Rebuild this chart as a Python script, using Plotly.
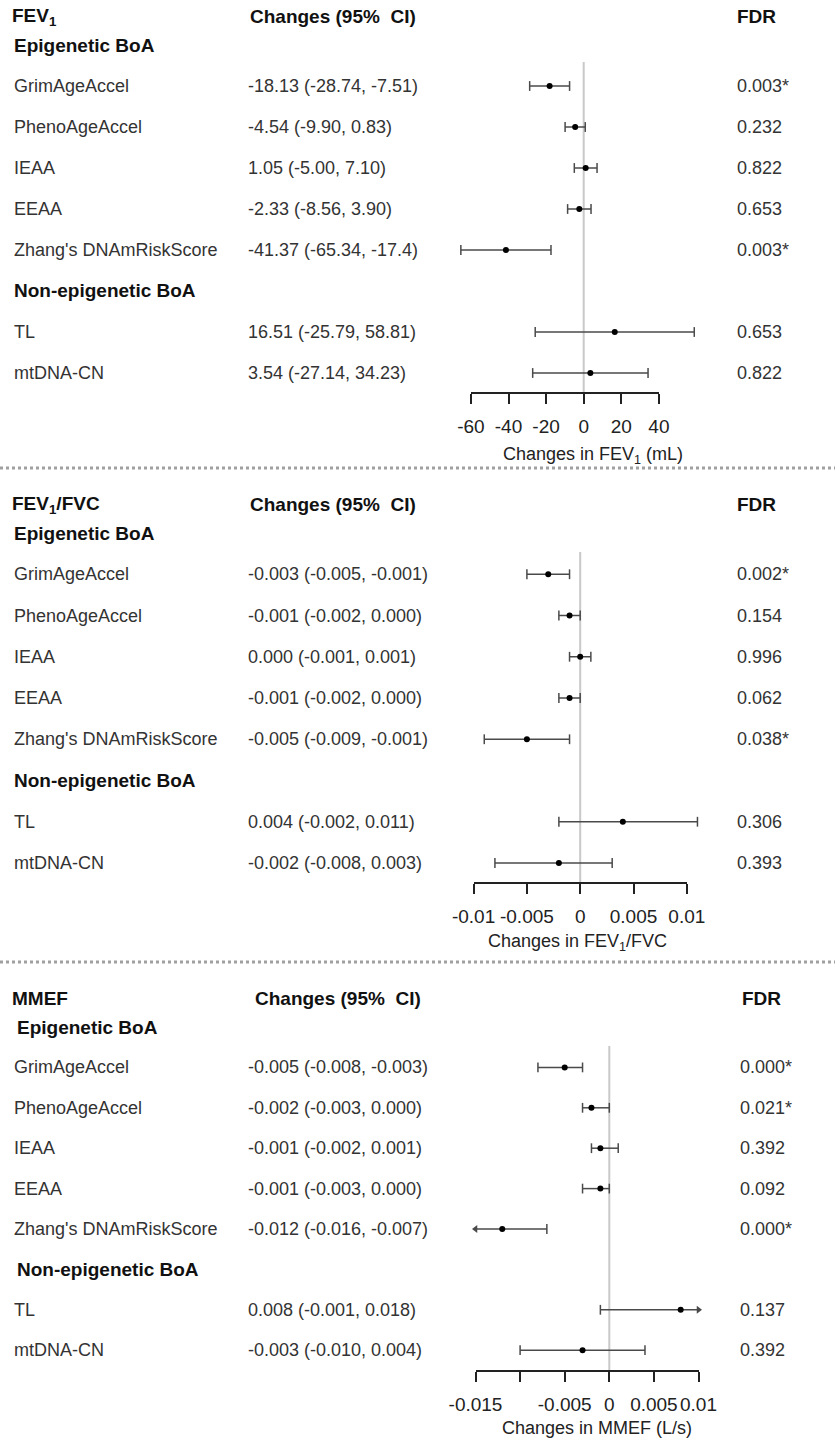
import plotly.graph_objects as go

W, H = 835, 1443

# ---- data -------------------------------------------------------------
row_labels = ["GrimAgeAccel", "PhenoAgeAccel", "IEAA", "EEAA",
              "Zhang's DNAmRiskScore", "TL", "mtDNA-CN"]
row_groups = ["Epigenetic BoA"] * 5 + ["Non-epigenetic BoA"] * 2

fev1_est = ["-18.13", "-4.54", "1.05", "-2.33", "-41.37", "16.51", "3.54"]
fev1_low = ["-28.74", "-9.90", "-5.00", "-8.56", "-65.34", "-25.79", "-27.14"]
fev1_high = ["-7.51", "0.83", "7.10", "3.90", "-17.4", "58.81", "34.23"]
fev1_fdr = ["0.003*", "0.232", "0.822", "0.653", "0.003*", "0.653", "0.822"]
fev1_ticks = [-60, -40, -20, 0, 20, 40]
fev1_ticktext = ["-60", "-40", "-20", "0", "20", "40"]

ratio_est = ["-0.003", "-0.001", "0.000", "-0.001", "-0.005", "0.004", "-0.002"]
ratio_low = ["-0.005", "-0.002", "-0.001", "-0.002", "-0.009", "-0.002", "-0.008"]
ratio_high = ["-0.001", "0.000", "0.001", "0.000", "-0.001", "0.011", "0.003"]
ratio_fdr = ["0.002*", "0.154", "0.996", "0.062", "0.038*", "0.306", "0.393"]
ratio_ticks = [-0.01, -0.005, 0, 0.005, 0.01]
ratio_ticktext = ["-0.01", "-0.005", "0", "0.005", "0.01"]

mmef_est = ["-0.005", "-0.002", "-0.001", "-0.001", "-0.012", "0.008", "-0.003"]
mmef_low = ["-0.008", "-0.003", "-0.002", "-0.003", "-0.016", "-0.001", "-0.010"]
mmef_high = ["-0.003", "0.000", "0.001", "0.000", "-0.007", "0.018", "0.004"]
mmef_fdr = ["0.000*", "0.021*", "0.392", "0.092", "0.000*", "0.137", "0.392"]
mmef_ticks = [-0.015, -0.01, -0.005, 0, 0.005, 0.01]
mmef_ticktext = ["-0.015", "", "-0.005", "0", "0.005", "0.01"]

# ---- panel layout -----------------------------------------------------
panels = [
    dict(name="FEV<sub>1</sub>", xtitle="Changes in FEV<sub>1</sub> (mL)",
         est=fev1_est, low=fev1_low, high=fev1_high, fdr=fev1_fdr,
         ticks=fev1_ticks, ticktext=fev1_ticktext, clip=False,
         head_px=17, row0_px=45, step=41.0, zero_px=583.7, ppu=1.88,
         axis_px=393, title_px=455, title_cx=593, ref_top_px=62,
         ci_head_x=248, fdr_head_x=735, fdr_x=735, group_x=12),
    dict(name="FEV<sub>1</sub>/FVC", xtitle="Changes in FEV<sub>1</sub>/FVC",
         est=ratio_est, low=ratio_low, high=ratio_high, fdr=ratio_fdr,
         ticks=ratio_ticks, ticktext=ratio_ticktext, clip=False,
         head_px=505, row0_px=533, step=41.25, zero_px=580.2, ppu=10660,
         axis_px=883, title_px=942, title_cx=577, ref_top_px=552,
         ci_head_x=248, fdr_head_x=735, fdr_x=735, group_x=12),
    dict(name="MMEF", xtitle="Changes in MMEF (L/s)",
         est=mmef_est, low=mmef_low, high=mmef_high, fdr=mmef_fdr,
         ticks=mmef_ticks, ticktext=mmef_ticktext, clip=True,
         head_px=998, row0_px=1027, step=40.4, zero_px=609.3, ppu=8920,
         axis_px=1371, title_px=1428, title_cx=597, ref_top_px=1046,
         ci_head_x=253, fdr_head_x=740, fdr_x=738, group_x=15),
]

FONT = "Liberation Sans, Arial, sans-serif"
TXT = "#333333"
BAR = "#4a4a4a"
REG, BOLD, TICK = 18, 19, 19


def py(px):
    return 1 - px / H


def px_x(px):
    return px / W


fig = go.Figure()
layout = dict(width=W, height=H, margin=dict(l=0, r=0, t=0, b=0, pad=0, autoexpand=False),
              paper_bgcolor="white", plot_bgcolor="rgba(0,0,0,0)",
              showlegend=False, font=dict(family=FONT, color=TXT))
annotations, shapes = [], []

for k, p in enumerate(panels, start=1):
    xa, ya = f"x{k}" if k > 1 else "x", f"y{k}" if k > 1 else "y"
    xkey, ykey = ("xaxis" + (str(k) if k > 1 else "")), ("yaxis" + (str(k) if k > 1 else ""))
    row_px = lambda r, p=p: p["row0_px"] + r * p["step"]

    # data axes span the whole page; pixel position follows the scale
    layout[xkey] = dict(domain=[0, 1], range=[-p["zero_px"] / p["ppu"], (W - p["zero_px"]) / p["ppu"]],
                        visible=False, anchor=ya, automargin=False)
    layout[ykey] = dict(domain=[0, 1], range=[(H - p["row0_px"]) / p["step"], -p["row0_px"] / p["step"]],
                        visible=False, anchor=xa, automargin=False)

    # row positions: group header rows interleaved with item rows
    rows, group_rows, r, last = [], [], 0, None
    for g in row_groups:
        if g != last:
            group_rows.append((g, r))
            r += 1
            last = g
        rows.append(r)
        r += 1

    est = [float(v) for v in p["est"]]
    low = [float(v) for v in p["low"]]
    high = [float(v) for v in p["high"]]
    tmin, tmax = min(p["ticks"]), max(p["ticks"])

    # whiskers
    lx, ly, capx, capy, al_x, al_y, ar_x, ar_y = [], [], [], [], [], [], [], []
    for lo, hi, yy in zip(low, high, rows):
        a, b = lo, hi
        if p["clip"] and lo < tmin:
            a = tmin
            al_x.append(a); al_y.append(yy)
        else:
            capx.append(a); capy.append(yy)
        if p["clip"] and hi > tmax:
            b = tmax
            ar_x.append(b); ar_y.append(yy)
        else:
            capx.append(b); capy.append(yy)
        lx += [a, b, None]
        ly += [yy, yy, None]

    # reference line at zero
    ref_top = (p["ref_top_px"] - p["row0_px"]) / p["step"]
    ref_bot = (p["axis_px"] - p["row0_px"]) / p["step"]
    fig.add_trace(go.Scatter(x=[0, 0], y=[ref_top, ref_bot], mode="lines",
                             line=dict(color="#c9c9c9", width=2),
                             xaxis=xa, yaxis=ya, hoverinfo="skip"))
    fig.add_trace(go.Scatter(x=lx, y=ly, mode="lines", line=dict(color=BAR, width=1.5),
                             xaxis=xa, yaxis=ya, hoverinfo="skip"))
    fig.add_trace(go.Scatter(x=capx, y=capy, mode="markers",
                             marker=dict(symbol="line-ns", size=7, line=dict(color=BAR, width=1.5)),
                             xaxis=xa, yaxis=ya, hoverinfo="skip"))
    if al_x:
        fig.add_trace(go.Scatter(x=al_x, y=al_y, mode="markers",
                                 marker=dict(symbol="triangle-left", size=7, color=BAR),
                                 xaxis=xa, yaxis=ya, hoverinfo="skip"))
    if ar_x:
        fig.add_trace(go.Scatter(x=ar_x, y=ar_y, mode="markers",
                                 marker=dict(symbol="triangle-right", size=7, color=BAR),
                                 xaxis=xa, yaxis=ya, hoverinfo="skip"))
    fig.add_trace(go.Scatter(x=est, y=rows, mode="markers",
                             marker=dict(symbol="circle", size=6, color="black"),
                             xaxis=xa, yaxis=ya, hoverinfo="skip"))

    # visible tick axis covering only the tick range
    tk = k + 3
    tkey = f"xaxis{tk}"
    d0 = (p["zero_px"] + p["ppu"] * tmin) / W
    d1 = (p["zero_px"] + p["ppu"] * tmax) / W
    layout[tkey] = dict(domain=[d0, d1], range=[tmin, tmax], anchor="free",
                        position=py(p["axis_px"]), side="bottom", automargin=False,
                        showline=True, linewidth=2, linecolor="#222222",
                        ticks="outside", ticklen=10, tickwidth=2, tickcolor="#222222",
                        tickvals=p["ticks"], ticktext=p["ticktext"], tickangle=0,
                        tickfont=dict(size=TICK, color="#222222", family=FONT),
                        ticklabelstandoff=6, showgrid=False, zeroline=False)
    fig.add_trace(go.Scatter(x=[tmin, tmax], y=[None, None], mode="markers",
                             xaxis=f"x{tk}", yaxis=ya, hoverinfo="skip"))

    # axis caption
    annotations.append(dict(text=p["xtitle"], xref="paper", yref="paper",
                            x=px_x(p["title_cx"]), y=py(p["title_px"]),
                            xanchor="center", yanchor="middle", showarrow=False,
                            font=dict(size=REG, color="#222222")))

    # column headers
    hy = py(p["head_px"])
    for txt, xx in [(f"<b>{p['name']}</b>", 10), ("<b>Changes (95%\u00a0 CI)</b>", p["ci_head_x"]),
                    ("<b>FDR</b>", p["fdr_head_x"])]:
        annotations.append(dict(text=txt, xref="paper", yref="paper", x=px_x(xx), y=hy,
                                xanchor="left", yanchor="middle", showarrow=False,
                                font=dict(size=BOLD, color="#111111")))
    for g, gr in group_rows:
        annotations.append(dict(text=f"<b>{g}</b>", xref="paper", yref="paper",
                                x=px_x(p["group_x"]), y=py(row_px(gr)),
                                xanchor="left", yanchor="middle", showarrow=False,
                                font=dict(size=BOLD, color="#111111")))

    # row text: name, estimate (CI), FDR
    for lab, e, lo, hi, f, rr in zip(row_labels, p["est"], p["low"], p["high"], p["fdr"], rows):
        yy = py(row_px(rr))
        for txt, xx in [(lab, 12), (f"{e} ({lo}, {hi})", 246), (f, p["fdr_x"])]:
            annotations.append(dict(text=txt, xref="paper", yref="paper", x=px_x(xx), y=yy,
                                    xanchor="left", yanchor="middle", showarrow=False,
                                    font=dict(size=REG, color=TXT)))

# dotted separators between panels
for sep in [468, 962]:
    shapes.append(dict(type="line", xref="paper", yref="paper", x0=0, x1=1,
                       y0=py(sep), y1=py(sep),
                       line=dict(color="#a0a0a0", width=3, dash="dot")))

layout["annotations"] = annotations
layout["shapes"] = shapes
fig.update_layout(**layout)
fig.write_html("out.html")
